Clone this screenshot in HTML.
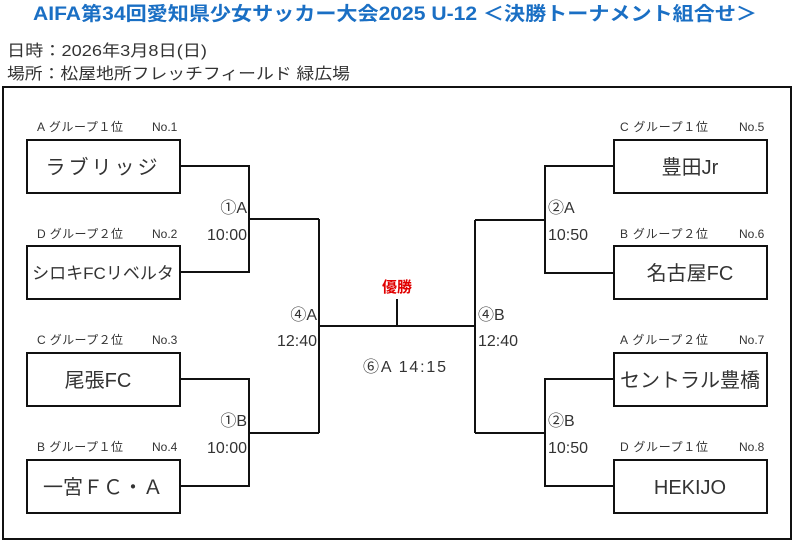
<!DOCTYPE html>
<html><head><meta charset="utf-8"><style>
html,body{margin:0;padding:0;background:#fff;}
svg{display:block;}
text{font-family:"Liberation Sans","Noto Sans CJK JP",sans-serif;fill:#333;}
</style></head><body>
<svg width="798" height="546" viewBox="0 0 798 546" xmlns="http://www.w3.org/2000/svg">
<text x="33" y="20" font-size="19" font-weight="bold" style="fill:#1a6fc4" textLength="724" lengthAdjust="spacingAndGlyphs">AIFA第34回愛知県少女サッカー大会2025 U-12 ＜決勝トーナメント組合せ＞</text>
<text x="7" y="56" font-size="16" textLength="200" lengthAdjust="spacingAndGlyphs">日時：2026年3月8日(日)</text>
<text x="7" y="79" font-size="16" textLength="343" lengthAdjust="spacingAndGlyphs">場所：松屋地所フレッチフィールド 緑広場</text>
<rect x="3" y="87" width="788" height="452" fill="none" stroke="#111" stroke-width="2"/>
<g fill="none" stroke="#111" stroke-width="2">
<rect x="27" y="140" width="153" height="53"/>
<rect x="27" y="246" width="153" height="53"/>
<rect x="27" y="353" width="153" height="53"/>
<rect x="27" y="460" width="153" height="53"/>
<rect x="614" y="140" width="153" height="53"/>
<rect x="614" y="246" width="153" height="53"/>
<rect x="614" y="353" width="153" height="53"/>
<rect x="614" y="460" width="153" height="53"/>
<polyline points="180,166 249,166 249,272 180,272"/>
<polyline points="180,379 249,379 249,486 180,486"/>
<line x1="249" y1="219" x2="319" y2="219"/>
<line x1="249" y1="433" x2="319" y2="433"/>
<line x1="319" y1="219" x2="319" y2="433"/>
<polyline points="614,166 545,166 545,273 614,273"/>
<polyline points="614,379 545,379 545,486 614,486"/>
<line x1="545" y1="220" x2="475" y2="220"/>
<line x1="545" y1="433" x2="475" y2="433"/>
<line x1="475" y1="220" x2="475" y2="433"/>
<line x1="319" y1="326" x2="475" y2="326"/>
<line x1="397" y1="299" x2="397" y2="326"/>
</g>
<g font-size="12">
<text x="37" y="131" textLength="86">A グループ１位</text><text x="152" y="131">No.1</text>
<text x="37" y="238" textLength="86">D グループ２位</text><text x="152" y="238">No.2</text>
<text x="37" y="344" textLength="86">C グループ２位</text><text x="152" y="344">No.3</text>
<text x="37" y="451" textLength="86">B グループ１位</text><text x="152" y="451">No.4</text>
<text x="620" y="131" textLength="88">C グループ１位</text><text x="739" y="131">No.5</text>
<text x="620" y="238" textLength="88">B グループ２位</text><text x="739" y="238">No.6</text>
<text x="620" y="344" textLength="88">A グループ２位</text><text x="739" y="344">No.7</text>
<text x="620" y="451" textLength="88">D グループ１位</text><text x="739" y="451">No.8</text>
</g>
<g font-size="20" text-anchor="middle">
<text x="103" y="174" letter-spacing="3">ラブリッジ</text>
<text x="103" y="279" font-size="17">シロキFCリベルタ</text>
<text x="98" y="387">尾張FC</text>
<text x="103" y="494">一宮ＦＣ・Ａ</text>
<text x="690" y="174">豊田Jr</text>
<text x="690" y="280">名古屋FC</text>
<text x="690" y="387">セントラル豊橋</text>
<text x="690" y="494">HEKIJO</text>
</g>
<g font-size="16">
<text x="247" y="213" text-anchor="end">①A</text>
<text x="247" y="240" text-anchor="end">10:00</text>
<text x="247" y="426" text-anchor="end">①B</text>
<text x="247" y="453" text-anchor="end">10:00</text>
<text x="317" y="320" text-anchor="end">④A</text>
<text x="317" y="346" text-anchor="end">12:40</text>
<text x="548" y="213">②A</text>
<text x="548" y="240">10:50</text>
<text x="548" y="426">②B</text>
<text x="548" y="453">10:50</text>
<text x="478" y="320">④B</text>
<text x="478" y="346">12:40</text>
<text x="363" y="372" textLength="83">⑥A 14:15</text>
</g>
<text x="397" y="292" font-size="15" font-weight="bold" text-anchor="middle" style="fill:#e00000">優勝</text>
</svg>
</body></html>
